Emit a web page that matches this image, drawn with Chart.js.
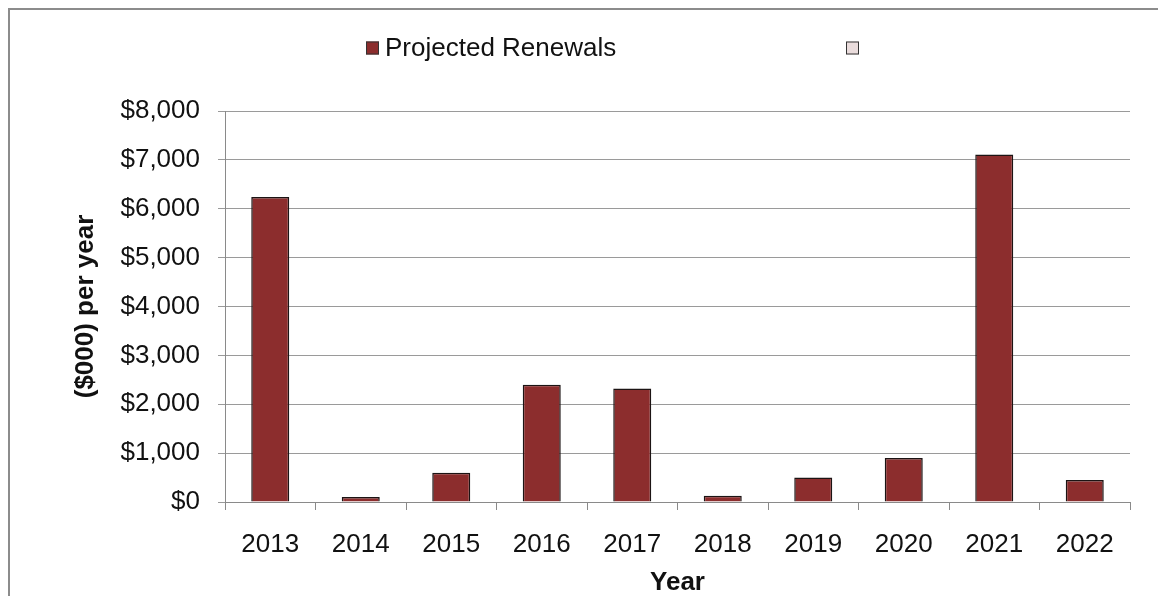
<!DOCTYPE html>
<html>
<head>
<meta charset="utf-8">
<script src="https://cdn.jsdelivr.net/npm/chart.js@4.4.1/dist/chart.umd.min.js"></script>
<style>
  html, body { margin: 0; padding: 0; background: #fff; overflow: hidden; }
  #wrap { position: relative; width: 1158px; height: 596px; }
  #frame {
    position: absolute; left: 8px; top: 8px; width: 1200px; height: 700px;
    border: 2px solid #8c8c8c; pointer-events: none;
  }
</style>
</head>
<body>
<div id="wrap">
  <canvas id="chart" width="1158" height="596"></canvas>
  <div id="frame"></div>
</div>
<script>
const years = ["2013", "2014", "2015", "2016", "2017", "2018", "2019", "2020", "2021", "2022"];
const renewals = [6240, 100, 600, 2400, 2320, 130, 500, 900, 7110, 450];
const blankSeries = [];
const yTicks = [0, 1000, 2000, 3000, 4000, 5000, 6000, 7000, 8000];

const FONT = "'Liberation Sans', Arial, sans-serif";

// legend drawn by hand so the two entries can sit far apart like the original sheet
const sheetLegend = {
  id: "sheetLegend",
  afterDraw(chart, args, opts) {
    const ctx = chart.ctx;
    ctx.save();
    chart.data.datasets.forEach((ds, i) => {
      const x = opts.itemX[i];
      const y = opts.y;
      const s = opts.box;
      ctx.fillStyle = ds.backgroundColor;
      ctx.fillRect(x, y - s / 2, s, s);
      ctx.lineWidth = 1;
      ctx.strokeStyle = "#333";
      ctx.strokeRect(x + 0.5, y - s / 2 + 0.5, s - 1, s - 1);
      if (ds.label) {
        ctx.fillStyle = "#111";
        ctx.font = "26px " + FONT;
        ctx.textBaseline = "middle";
        ctx.textAlign = "left";
        ctx.fillText(ds.label, x + s + 6, y + 1);
      }
    });
    ctx.restore();
  },
};

new Chart(document.getElementById("chart"), {
  type: "bar",
  data: {
    labels: years,
    datasets: [
      {
        label: "Projected Renewals",
        data: renewals,
        backgroundColor: "#8c2d2d",
        borderColor: "#1c1414",
        borderWidth: 1.5,
      },
      {
        label: "",
        data: blankSeries,
        backgroundColor: "#eadcdc",
      },
    ],
  },
  options: {
    responsive: false,
    animation: false,
    layout: { padding: { left: 60, right: 28, top: 111, bottom: 0 } },
    datasets: {
      bar: { grouped: false, categoryPercentage: 1, barPercentage: 0.42 },
    },
    plugins: {
      legend: { display: false },
      tooltip: { enabled: false },
      sheetLegend: { itemX: [366, 846], y: 48, box: 13 },
    },
    scales: {
      x: {
        offset: true,
        grid: {
          offset: true,
          drawOnChartArea: false,
          drawTicks: true,
          tickLength: 8,
          color: "#8a8a8a",
        },
        border: { color: "#8a8a8a", width: 1 },
        ticks: { color: "#111", font: { family: FONT, size: 26 }, padding: 19, maxRotation: 0 },
        title: {
          display: true,
          text: "Year",
          color: "#111",
          font: { family: FONT, size: 26, weight: "bold" },
          padding: { top: 0, bottom: -2 },
        },
        afterFit(scale) { scale.height = 94; },
      },
      y: {
        min: 0,
        max: 8000,
        afterBuildTicks(scale) { scale.ticks = yTicks.map(v => ({ value: v })); },
        grid: { color: "#9a9a9a", tickLength: 7, drawTicks: true },
        border: { color: "#8a8a8a", width: 1 },
        ticks: {
          color: "#111",
          font: { family: FONT, size: 26 },
          padding: 18,
          callback: v => "$" + v.toLocaleString("en-US"),
        },
        title: {
          display: true,
          text: "($000) per year",
          color: "#111",
          font: { family: FONT, size: 26, weight: "bold" },
          padding: { top: 10, bottom: 0 },
        },
        afterFit(scale) { scale.width = 165; },
      },
    },
  },
  plugins: [sheetLegend],
});
</script>
</body>
</html>
